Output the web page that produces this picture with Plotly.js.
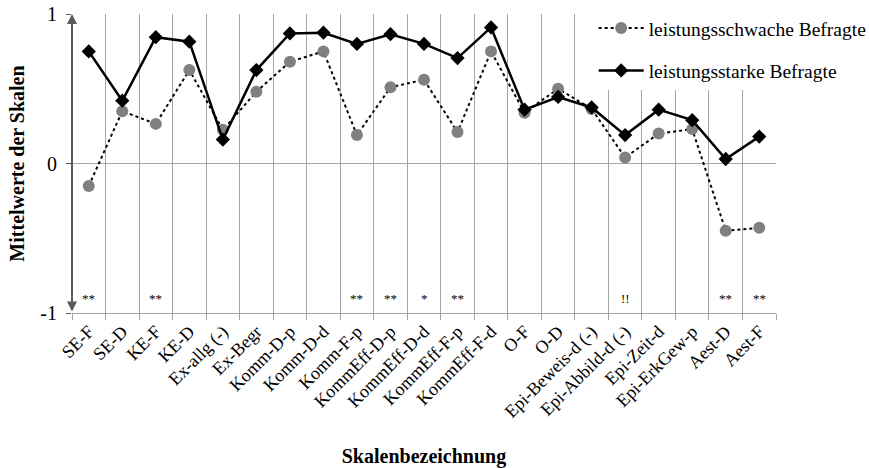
<!DOCTYPE html>
<html>
<head>
<meta charset="utf-8">
<script src="https://cdn.plot.ly/plotly-3.0.1.min.js"></script>
<style>html,body{margin:0;padding:0;background:#fff;}#chart{width:869px;height:468px;}</style>
</head>
<body>
<div id="chart"></div>
<script>
const categories = ['SE-F','SE-D','KE-F','KE-D','Ex-allg (-)','Ex-Begr','Komm-D-p','Komm-D-d','Komm-F-p','KommEff-D-p','KommEff-D-d','KommEff-F-p','KommEff-F-d','O-F','O-D','Epi-Beweis-d (-)','Epi-Abbild-d (-)','Epi-Zeit-d','Epi-ErkGew-p','Aest-D','Aest-F'];
const lowValues  = [-0.15,0.35,0.265,0.625,0.225,0.48,0.68,0.75,0.19,0.51,0.56,0.21,0.75,0.34,0.50,0.365,0.04,0.20,0.23,-0.45,-0.43];
const highValues = [0.75,0.42,0.845,0.815,0.16,0.625,0.87,0.875,0.80,0.865,0.80,0.705,0.91,0.36,0.445,0.375,0.19,0.36,0.29,0.03,0.18];
const sigLabels  = ['**','','**','','','','','','**','**','*','**','','','','','!!','','','**','**'];
const seriesNames = ['leistungsschwache Befragte','leistungsstarke Befragte'];
const yTicks = [-1,0,1];

const FONT = '"Liberation Serif", "Times New Roman", serif';
const GRID = '#a6a6a6';

const traces = [
  {x: categories, y: lowValues, name: seriesNames[0], type: 'scatter', mode: 'lines+markers',
   legendgroup: 'a',
   line: {color: '#000', width: 2, dash: 'dot'},
   marker: {symbol: 'circle', size: 12, color: '#808080'}},
  {x: categories, y: highValues, name: seriesNames[1], type: 'scatter', mode: 'lines+markers',
   legendgroup: 'b',
   line: {color: '#000', width: 2.5},
   marker: {symbol: 'diamond', size: 11, color: '#000'}}
];

const annotations = [];
sigLabels.forEach((s, i) => {
  if (s) annotations.push({x: categories[i], y: -0.9, xref: 'x', yref: 'y', text: s, showarrow: false,
    font: {family: FONT, size: 13, color: '#000'}, yanchor: 'middle'});
});
annotations.push({x: 0, y: 1, xref: 'paper', yref: 'y', axref: 'pixel', ax: 0, ayref: 'y', ay: -1,
  text: '', showarrow: true, arrowside: 'end+start', arrowhead: 2, startarrowhead: 2,
  arrowsize: 1, startarrowsize: 1, arrowwidth: 2, arrowcolor: '#595959', standoff: 0, startstandoff: 0});

const layout = {
  width: 869, height: 468,
  margin: {l: 72, r: 93, t: 14, b: 155, autoexpand: false},
  paper_bgcolor: '#fff', plot_bgcolor: '#fff',
  font: {family: FONT, color: '#000'},
  showlegend: true,
  legend: {x: 0.741, y: 1.017, xanchor: 'left', yanchor: 'top', bgcolor: '#fff',
    font: {family: FONT, size: 19.5, color: '#000'}, traceorder: 'grouped', tracegroupgap: 14, itemwidth: 45},
  xaxis: {
    type: 'category', range: [-0.5, categories.length - 0.5],
    tickson: 'boundaries', ticks: 'outside', ticklen: 6, tickcolor: GRID,
    showgrid: true, gridcolor: GRID, gridwidth: 1,
    showline: true, linecolor: GRID, linewidth: 1,
    tickangle: -45, tickfont: {family: FONT, size: 18, color: '#000'},
    title: {text: '<b>Skalenbezeichnung</b>', font: {family: FONT, size: 20, color: '#000'}, standoff: 32},
    automargin: false, fixedrange: true
  },
  yaxis: {
    range: [-1, 1], tickvals: yTicks, ticktext: yTicks.map(String),
    ticks: 'outside', ticklen: 5, tickcolor: '#595959',
    showgrid: true, gridcolor: GRID, gridwidth: 1, zeroline: false,
    showline: false, ticklabelstandoff: 5,
    tickfont: {family: FONT, size: 20, color: '#000'},
    title: {text: '<b>Mittelwerte der Skalen</b>', font: {family: FONT, size: 20, color: '#000'}, standoff: 10},
    automargin: false, fixedrange: true
  },
  annotations: annotations
};

Plotly.newPlot('chart', traces, layout, {displayModeBar: false, staticPlot: true});
</script>
</body>
</html>
